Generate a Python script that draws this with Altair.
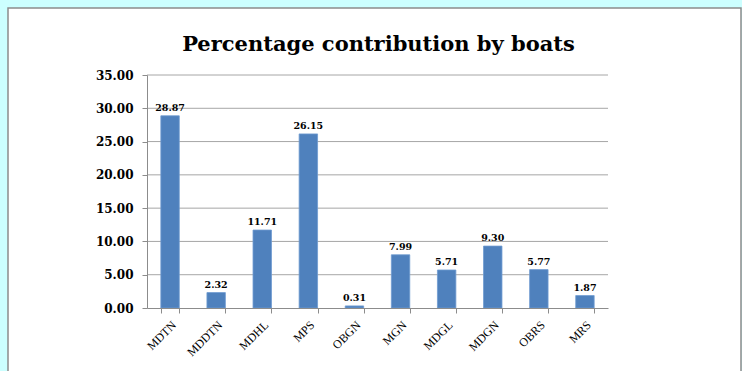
import altair as alt
import pandas as pd

boats = ["MDTN", "MDDTN", "MDHL", "MPS", "OBGN", "MGN", "MDGL", "MDGN", "OBRS", "MRS"]
percent = [28.87, 2.32, 11.71, 26.15, 0.31, 7.99, 5.71, 9.30, 5.77, 1.87]
y_ticks = [0, 5, 10, 15, 20, 25, 30, 35]
title_text = "Percentage contribution by boats"

df = pd.DataFrame({"boat": boats, "pct": percent})
grid_df = pd.DataFrame({"pct": y_ticks[1:]})

W, H = 461, 233
PL, PT, PR, PB = 147, 75, 134, 63

yscale = alt.Scale(domain=[0, 35], nice=False)
xscale = alt.Scale(paddingInner=0.6, paddingOuter=0.3)

y_axis = alt.Axis(
    values=y_ticks, format=".2f",
    labelFont="DejaVu Serif", labelFontWeight="bold", labelFontSize=12,
    labelColor="black", labelPadding=9, tickSize=5, tickColor="#8c8c8c",
    domainColor="#8c8c8c", grid=False, zindex=1,
    labelOverlap=False, labelFlush=False,
)
x_axis = alt.Axis(
    labelAngle=-45, labelAlign="right", labelBaseline="top",
    labelFont="Liberation Serif", labelFontSize=12, labelColor="black",
    labelPadding=6, tickBand="extent", tickSize=5, tickColor="#8c8c8c",
    domainColor="#8c8c8c", grid=False, zindex=1, labelOverlap=False,
)

panel = alt.Chart(pd.DataFrame({"a": [0]})).mark_rect(
    fill="white", stroke="#8c8c8c", strokeWidth=1.5, clip=False
).encode(
    x=alt.value(8 - PL), x2=alt.value(741 - PL),
    y=alt.value(8 - PT), y2=alt.value(H + PB + 20),
)

title = alt.Chart(pd.DataFrame({"t": [title_text]})).mark_text(
    font="DejaVu Serif", fontSize=21, fontWeight="bold", color="black",
    baseline="alphabetic", align="center",
).encode(x=alt.value(W / 2 + 1), y=alt.value(51 - PT), text="t:N")

grid = alt.Chart(grid_df).mark_rule(color="#a6a6a6", strokeWidth=1).encode(
    y=alt.Y("pct:Q", title=None, scale=yscale, axis=y_axis)
)

bars = alt.Chart(df).mark_bar(color="#4f81bd", stroke="#6f9bd1", strokeWidth=0.8).encode(
    x=alt.X("boat:N", sort=boats, title=None, scale=xscale, axis=x_axis),
    y=alt.Y("pct:Q", title=None, scale=yscale, axis=y_axis),
)

labels = alt.Chart(df).mark_text(
    dy=-8, font="DejaVu Serif", fontWeight="bold", fontSize=9.5, color="black"
).encode(
    x=alt.X("boat:N", sort=boats, title=None, scale=xscale, axis=x_axis),
    y=alt.Y("pct:Q", title=None, scale=yscale, axis=y_axis),
    text=alt.Text("pct:Q", format=".2f"),
)

chart = alt.layer(panel, title, grid, bars, labels).properties(
    width=W, height=H,
    padding={"left": PL, "top": PT, "right": PR, "bottom": PB},
    autosize=alt.AutoSizeParams(type="none"),
    background="#ccffff",
).configure_view(stroke=None)

chart.save("out.html", embed_options={"renderer": "svg", "actions": False})
